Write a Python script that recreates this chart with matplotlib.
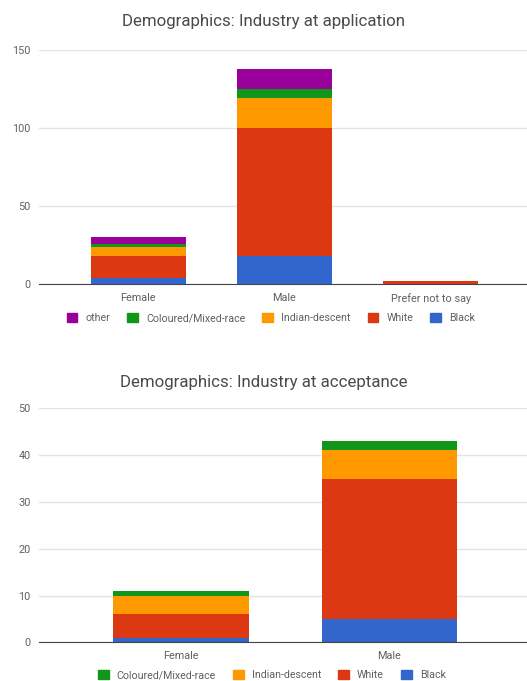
import numpy as np
import matplotlib.pyplot as plt
from matplotlib.patches import Patch

plt.rcParams['font.family'] = ['Roboto', 'DejaVu Sans']

# application stage
app_genders = ['Female', 'Male', 'Prefer not to say']
app_black = [4, 18, 0]
app_white = [14, 82, 2]
app_indian = [6, 19, 0]
app_coloured = [2, 6, 0]
app_other = [4, 13, 0]

# acceptance stage
acc_genders = ['Female', 'Male']
acc_black = [1, 5]
acc_white = [5, 30]
acc_indian = [4, 6]
acc_coloured = [1, 2]

colors = {
    'Black': '#3366cc',
    'White': '#dc3912',
    'Indian-descent': '#ff9900',
    'Coloured/Mixed-race': '#109618',
    'other': '#990099',
}
text_col = '#606060'


def stacked(ax, cats, series, ymax, step):
    x = np.arange(len(cats))
    bottom = np.zeros(len(cats))
    for name, vals in series:
        ax.bar(x, vals, bottom=bottom, width=0.65, color=colors[name], zorder=3)
        bottom += np.array(vals)
    ax.set_xlim(-0.68, len(cats) - 1 + 0.66)
    ax.set_ylim(0, ymax)
    ax.set_yticks(np.arange(0, ymax + 1, step))
    ax.set_xticks(x)
    ax.set_xticklabels(cats)
    ax.grid(axis='y', color='#e3e3e3', linewidth=1, zorder=0)
    for s in ['top', 'right', 'left']:
        ax.spines[s].set_visible(False)
    ax.spines['bottom'].set_color('#444444')
    ax.spines['bottom'].set_zorder(4)
    ax.tick_params(length=0, labelsize=7.8, colors=text_col, pad=6)


fig = plt.figure(figsize=(5.27, 6.81), dpi=100)

ax1 = fig.add_axes([0.074, 0.5825, 0.926, 0.344])
stacked(ax1, app_genders,
        [('Black', app_black), ('White', app_white), ('Indian-descent', app_indian),
         ('Coloured/Mixed-race', app_coloured), ('other', app_other)], 150, 50)
fig.text(0.5, 0.968, 'Demographics: Industry at application', ha='center', va='center',
         fontsize=12.2, color='#4a4a4a')
h1 = [Patch(color=colors[n]) for n in ['other', 'Coloured/Mixed-race', 'Indian-descent', 'White', 'Black']]
fig.legend(h1, ['other', 'Coloured/Mixed-race', 'Indian-descent', 'White', 'Black'],
           loc='center', bbox_to_anchor=(0.514, 0.533), ncol=5, frameon=False, fontsize=7.7,
           handlelength=1.0, handleheight=1.0, handletextpad=0.75, columnspacing=1.6,
           labelcolor=text_col)

ax2 = fig.add_axes([0.074, 0.0568, 0.926, 0.3436])
stacked(ax2, acc_genders,
        [('Black', acc_black), ('White', acc_white), ('Indian-descent', acc_indian),
         ('Coloured/Mixed-race', acc_coloured)], 50, 10)
fig.text(0.5, 0.439, 'Demographics: Industry at acceptance', ha='center', va='center',
         fontsize=12.2, color='#4a4a4a')
h2 = [Patch(color=colors[n]) for n in ['Coloured/Mixed-race', 'Indian-descent', 'White', 'Black']]
fig.legend(h2, ['Coloured/Mixed-race', 'Indian-descent', 'White', 'Black'],
           loc='center', bbox_to_anchor=(0.516, 0.009), ncol=4, frameon=False, fontsize=7.7,
           handlelength=1.0, handleheight=1.0, handletextpad=0.75, columnspacing=1.6,
           labelcolor=text_col)

fig.savefig('out.png', dpi=100)
